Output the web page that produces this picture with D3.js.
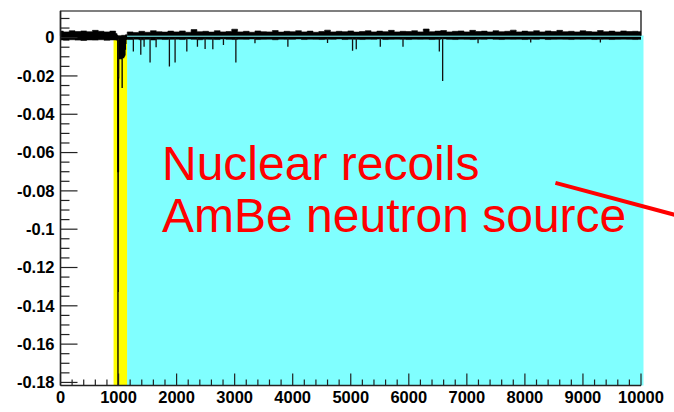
<!DOCTYPE html>
<html>
<head>
<meta charset="utf-8">
<script src="https://cdn.jsdelivr.net/npm/d3@7"></script>
<style>
  html, body { margin: 0; padding: 0; background: #fff; }
  svg { display: block; }
</style>
</head>
<body>
<svg id="chart" width="674" height="412"></svg>
<script>
// Waveform of a nuclear-recoil event (AmBe source): baseline noise, negative spikes, main pulse near 1000.

// Baseline noise envelope, one value every 100 samples (in units of 1e-3)
const noiseStep = 100;
const noiseHigh = [
  3.4,3.0,3.6,3.2,3.5,3.1,3.8,3.3,3.0,3.4,
  1.0,1.2,3.0,2.7,3.3,2.8,3.6,3.1,2.9,3.4,
  3.0,3.5,2.8,4.2,3.1,3.3,2.9,3.6,3.0,3.2,
  4.4,3.0,3.3,2.8,3.5,3.1,3.0,3.7,2.9,3.3,
  3.1,3.6,3.0,3.4,2.8,3.2,3.9,3.0,3.3,3.1,
  3.5,2.9,3.2,3.6,3.0,3.4,3.1,3.8,3.0,3.3,
  3.2,3.6,3.0,4.5,3.1,3.4,3.7,3.0,3.3,3.5,
  3.0,3.8,3.2,3.4,3.0,3.6,3.1,3.3,3.9,3.0,
  3.4,3.1,3.6,3.0,3.5,3.2,3.8,3.1,3.3,3.0,
  3.6,3.2,3.0,3.7,3.1,3.4,3.0,3.5,3.2,3.3,
  3.1
];
const noiseLow = [
  -1.2,-1.4,-1.1,-1.3,-1.5,-1.2,-1.3,-1.1,-1.4,-1.2,
  -0.5,-0.8,-1.0,-0.8,-1.1,-0.9,-1.2,-0.8,-1.0,-0.9,
  -0.8,-1.0,-0.7,-0.9,-1.1,-0.8,-0.9,-1.0,-0.7,-0.9,
  -1.0,-0.8,-0.9,-0.7,-1.0,-0.9,-0.8,-1.1,-0.8,-0.9,
  -0.9,-0.7,-1.0,-0.8,-0.9,-1.0,-0.8,-0.9,-0.7,-1.0,
  -0.8,-0.9,-1.0,-0.8,-0.9,-0.7,-1.0,-0.9,-0.8,-0.9,
  -1.0,-0.8,-0.9,-0.8,-1.0,-0.9,-0.7,-0.9,-1.0,-0.8,
  -0.9,-1.0,-0.8,-0.9,-0.7,-0.9,-1.0,-0.8,-0.9,-0.8,
  -1.0,-0.8,-0.9,-0.7,-1.0,-0.9,-0.8,-0.9,-1.0,-0.8,
  -0.9,-0.8,-1.0,-0.9,-0.8,-1.0,-0.9,-0.8,-0.9,-1.0,
  -0.9
];

// Isolated negative spikes: sample position and amplitude
const spikeT = [1255,1383,1440,1543,1647,1876,1974,2176,2359,2491,2624,2807,3021,3350,3917,4600,5031,5095,5509,5900,6526,6583,7193,8100,9300];
const spikeV = [-0.0073,-0.0090,-0.0047,-0.0130,-0.0050,-0.0151,-0.0130,-0.0073,-0.0047,-0.0060,-0.0061,-0.0038,-0.0130,-0.0030,-0.0047,-0.0028,-0.0068,-0.0061,-0.0047,-0.0047,-0.0073,-0.0226,-0.0029,-0.0025,-0.0025];

// Main pulse, sampled every 4 samples starting at 940
const pulseStart = 940;
const pulseStep = 4;
const pulseV = [
  0.0015,-0.0008,0.002,-0.001,0.0012,-0.0012,0.002,-0.0009,0.0014,-0.0011,
  0.001,-0.07,-0.2,-0.1325,-0.07,-0.021,0.0,-0.0105,0.0005,
  -0.011,-0.001,-0.0105,0.0,-0.010,-0.0005,-0.011,0.0,-0.0105,-0.001,
  -0.010,-0.026,-0.0005,-0.0105,0.0,-0.010,-0.001,-0.0105,0.0,-0.010,
  -0.0005,-0.0095,0.0,-0.009,-0.001,-0.006,0.001,-0.003,0.0015,-0.0008,
  0.001
];

// Highlighted windows: [start, end, top]
const pulseWindow = [914, 1147, 0.0009];
const tailWindow = [1147, 10043, 0.0010];

// Axis ticks
const yMajor = [0,-0.02,-0.04,-0.06,-0.08,-0.1,-0.12,-0.14,-0.16,-0.18];
const yLabels = ["0","-0.02","-0.04","-0.06","-0.08","-0.1","-0.12","-0.14","-0.16","-0.18"];
const xMajor = [0,1000,2000,3000,4000,5000,6000,7000,8000,9000,10000];
const xLabels = ["0","1000","2000","3000","4000","5000","6000","7000","8000","9000","10000"];

// Annotation
const noteLines = ["Nuclear recoils", "AmBe neutron source"];
const notePointer = [[8526, -0.0758], [10578, -0.0925]];

const svg = d3.select("#chart");
const x = d3.scaleLinear().domain([0, 10000]).range([60.5, 641]);
const y = d3.scaleLinear().domain([-0.1816, 0.0139]).range([385.5, 11]);

const [fx0, fx1] = x.range();
const [fy1, fy0] = y.range();

svg.append("defs").append("clipPath").attr("id", "frameClip")
  .append("rect").attr("x", fx0).attr("y", fy0).attr("width", fx1 - fx0).attr("height", fy1 - fy0);

// Coloured windows
svg.append("rect")
  .attr("x", x(tailWindow[0])).attr("y", y(tailWindow[2]))
  .attr("width", x(tailWindow[1]) - x(tailWindow[0]))
  .attr("height", fy1 - y(tailWindow[2]))
  .attr("fill", "#80ffff");
svg.append("rect")
  .attr("x", x(pulseWindow[0])).attr("y", y(pulseWindow[2]))
  .attr("width", x(pulseWindow[1]) - x(pulseWindow[0]))
  .attr("height", fy1 - y(pulseWindow[2]))
  .attr("fill", "#ffff00");

// Waveform
const trace = svg.append("g").attr("clip-path", "url(#frameClip)");

const noise = noiseHigh.map((h, i) => ({ t: i * noiseStep, hi: h / 1000, lo: noiseLow[i] / 1000 }));
trace.append("path")
  .datum(noise)
  .attr("fill", "#000")
  .attr("stroke", "#000")
  .attr("stroke-width", 0.6)
  .attr("d", d3.area().x(d => x(d.t)).y0(d => y(d.lo)).y1(d => y(d.hi)).curve(d3.curveStep));

trace.selectAll("line.spike")
  .data(spikeT.map((t, i) => ({ t, v: spikeV[i] })))
  .join("line")
  .attr("class", "spike")
  .attr("x1", d => x(d.t)).attr("x2", d => x(d.t))
  .attr("y1", y(0)).attr("y2", d => y(d.v))
  .attr("stroke", "#111").attr("stroke-width", 1.3);

const pulse = pulseV.map((v, i) => ({ t: pulseStart + i * pulseStep, v }));
trace.append("path")
  .datum(pulse)
  .attr("fill", "none")
  .attr("stroke", "#000")
  .attr("stroke-width", 1.1)
  .attr("d", d3.line().x(d => x(d.t)).y(d => y(d.v)).curve(d3.curveStepAfter));

// Top edge of the tail window
svg.append("line")
  .attr("x1", x(tailWindow[0])).attr("x2", x(tailWindow[1]))
  .attr("y1", y(tailWindow[2]) + 0.5).attr("y2", y(tailWindow[2]) + 0.5)
  .attr("stroke", "#80ffff").attr("stroke-width", 1);

// Frame
svg.append("path")
  .attr("d", `M${fx0},${y(tailWindow[2])}V${fy0}H${fx1}V${y(tailWindow[2])}`)
  .attr("fill", "none").attr("stroke", "#000").attr("stroke-width", 1.2);

// Axes
const axes = svg.append("g").attr("stroke", "#222").attr("stroke-width", 1.2);
axes.append("line").attr("x1", fx0).attr("x2", fx0).attr("y1", fy0).attr("y2", fy1).attr("stroke-width", 1.6);
axes.append("line").attr("x1", fx0).attr("x2", fx1).attr("y1", fy1).attr("y2", fy1).attr("stroke-width", 1.6);

const yMinor = d3.range(0.01, -0.1801, -0.005).filter(v => !yMajor.some(m => Math.abs(m - v) < 1e-6));
axes.selectAll("line.ymaj").data(yMajor).join("line")
  .attr("x1", fx0).attr("x2", fx0 + 17).attr("y1", d => y(d)).attr("y2", d => y(d));
axes.selectAll("line.ymin").data(yMinor).join("line")
  .attr("x1", fx0).attr("x2", fx0 + 9).attr("y1", d => y(d)).attr("y2", d => y(d));

const xMinor = d3.range(200, 10000, 200).filter(v => v % 1000 !== 0);
axes.selectAll("line.xmaj").data(xMajor).join("line")
  .attr("x1", d => x(d)).attr("x2", d => x(d)).attr("y1", fy1).attr("y2", fy1 - 12);
axes.selectAll("line.xmin").data(xMinor).join("line")
  .attr("x1", d => x(d)).attr("x2", d => x(d)).attr("y1", fy1).attr("y2", fy1 - 6);

const labelFont = "'Liberation Sans', Arial, Helvetica, sans-serif";
svg.append("g").selectAll("text").data(yMajor).join("text")
  .attr("x", 54.5).attr("y", d => y(d) + 5.8)
  .attr("text-anchor", "end")
  .attr("font-family", labelFont).attr("font-weight", "bold").attr("font-size", 16.5)
  .attr("fill", "#000")
  .text((d, i) => yLabels[i]);
svg.append("g").selectAll("text").data(xMajor).join("text")
  .attr("x", d => x(d)).attr("y", 403)
  .attr("text-anchor", "middle")
  .attr("font-family", labelFont).attr("font-weight", "bold").attr("font-size", 16.5)
  .attr("fill", "#000")
  .text((d, i) => xLabels[i]);

// Annotation text and pointer
svg.append("g").selectAll("text").data(noteLines).join("text")
  .attr("x", 162).attr("y", (d, i) => 180 + i * 52)
  .attr("font-family", labelFont).attr("font-size", 48)
  .attr("fill", "#ff0000")
  .text(d => d);
svg.append("line")
  .attr("x1", x(notePointer[0][0])).attr("y1", y(notePointer[0][1]))
  .attr("x2", x(notePointer[1][0])).attr("y2", y(notePointer[1][1]))
  .attr("stroke", "#ff0000").attr("stroke-width", 4);
</script>
</body>
</html>
